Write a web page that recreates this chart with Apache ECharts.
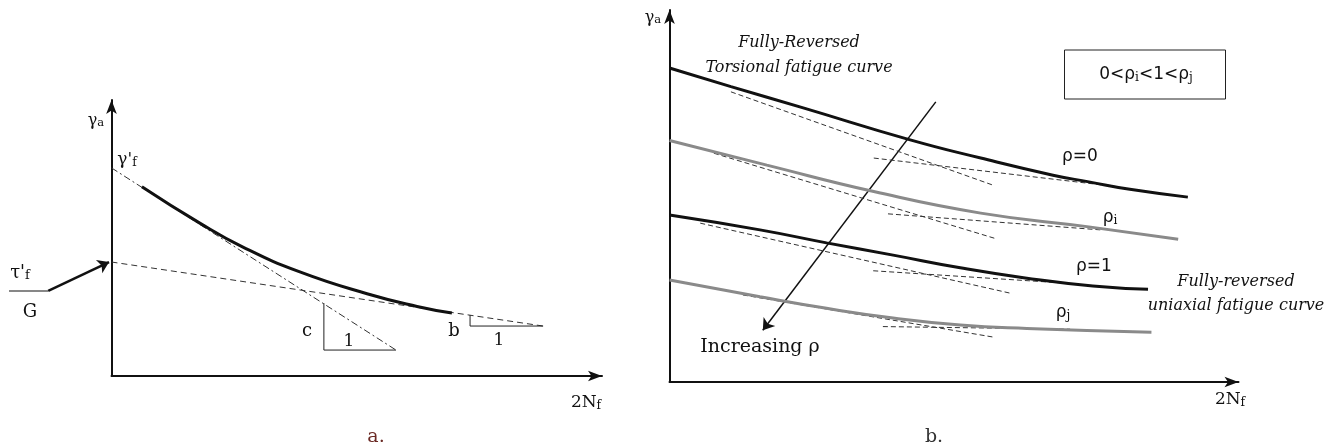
<!DOCTYPE html>
<html>
<head>
<meta charset="utf-8">
<script src="https://cdn.jsdelivr.net/npm/echarts@6/dist/echarts.min.js"></script>
<style>
  html, body { margin: 0; padding: 0; background: #fff; }
  #main { width: 1337px; height: 447px; }
</style>
</head>
<body>
<div id="main"></div>
<script>
// panel a: shear strain-life curve and its two asymptotes (axis units 0..10)
const curveA = [[0.62, 6.86], [1.80, 5.54], [2.68, 4.67], [3.84, 3.77], [5.21, 2.98], [6.23, 2.52], [6.94, 2.28]]
const steepA = [[0, 7.54], [5.80, 0.94]]
const shallowA = [[0, 4.13], [8.80, 1.81]]
const triC = [[4.33, 2.64], [4.33, 0.94], [5.80, 0.94]]
const triB = [[7.31, 2.21], [7.31, 1.81], [8.80, 1.81]]
const tauArrow = [[-1.29, 3.08], [-0.05, 4.13]]

// panel b: curves for several strain ratios rho
const rho0 = [[0, 8.44], [1.08, 7.94], [2.35, 7.37], [4.23, 6.51], [5.47, 6.02], [6.74, 5.56], [7.37, 5.38], [8.09, 5.18], [9.11, 4.97]]
const rhoI = [[0, 6.49], [1.71, 5.83], [3.59, 5.12], [5.47, 4.54], [7.37, 4.17], [8.94, 3.84]]
const rho1 = [[0, 4.49], [1.59, 4.09], [2.76, 3.74], [3.93, 3.41], [5.11, 3.07], [6.28, 2.79], [7.44, 2.58], [8.41, 2.49]]
const rhoJ = [[0, 2.74], [1.59, 2.29], [2.76, 1.98], [3.93, 1.72], [5.11, 1.53], [6.28, 1.44], [8.47, 1.34]]
const tangentsB = [
  [[1.08, 7.80], [5.67, 5.30]], [[3.59, 6.02], [7.87, 5.25]],
  [[0.78, 6.15], [5.72, 3.86]], [[3.84, 4.52], [7.57, 4.09]],
  [[0.54, 4.27], [6.01, 2.38]], [[3.58, 2.99], [7.04, 2.65]],
  [[1.29, 2.34], [5.72, 1.20]], [[3.75, 1.49], [7.04, 1.42]]
]
const rhoArrow = [[4.68, 7.53], [1.64, 1.39]]

const serif = 'DejaVu Serif'
const ink = '#111'

function axis(idx) {
  return {
    gridIndex: idx, type: 'value', min: 0, max: 10,
    axisLine: { show: true, symbol: ['none', 'arrow'], symbolSize: [8, 14], lineStyle: { color: ink, width: 2 } },
    axisTick: { show: false }, axisLabel: { show: false }, splitLine: { show: false }
  }
}

function curve(data, idx, color, width, smooth) {
  return {
    type: 'line', xAxisIndex: idx, yAxisIndex: idx, data: data,
    showSymbol: false, smooth: smooth, silent: true, animation: false,
    lineStyle: { color: color, width: width }
  }
}

function dashed(data, idx, type) {
  return {
    type: 'line', xAxisIndex: idx, yAxisIndex: idx, data: data,
    showSymbol: false, silent: true, animation: false,
    lineStyle: { color: '#333', width: 1, type: type || [5, 4] }
  }
}

function arrow(data, idx, width) {
  return {
    type: 'lines', coordinateSystem: 'cartesian2d', xAxisIndex: idx, yAxisIndex: idx,
    clip: false, silent: true, animation: false,
    symbol: ['none', 'arrow'], symbolSize: 11,
    lineStyle: { color: ink, width: width, opacity: 1 },
    data: [{ coords: data }]
  }
}

function txt(x, y, text, size, extra) {
  return Object.assign({
    type: 'text', x: x, y: y,
    style: Object.assign({
      text: text, fill: ink, font: size + 'px "' + serif + '"',
      align: 'center', verticalAlign: 'middle',
      rich: {
        s: { fontSize: size * 0.72, fontFamily: serif, verticalAlign: 'bottom', padding: [size * 0.3, 0, 0, 0] }
      }
    }, extra || {})
  })
}

const series = [
  dashed(steepA, 0, [7, 3, 2, 3]),
  dashed(shallowA, 0, [6, 4]),
  curve(curveA, 0, ink, 3, 0.5),
  curve(triC, 0, '#222', 1, false),
  curve(triB, 0, '#222', 1, false),
  arrow(tauArrow, 0, 2.5)
]
tangentsB.forEach(t => series.push(dashed(t, 1, [5, 3])))
series.push(curve(rho0, 1, ink, 3, 0.5))
series.push(curve(rhoI, 1, '#8a8a8a', 3, 0.5))
series.push(curve(rho1, 1, ink, 3, 0.5))
series.push(curve(rhoJ, 1, '#8a8a8a', 3, 0.5))
series.push(arrow(rhoArrow, 1, 1.5))

const italic = 'italic 16px "' + serif + '"'
const sans = '17px "DejaVu Sans"'

const chart = echarts.init(document.getElementById('main'))
chart.setOption({
  backgroundColor: '#fff',
  animation: false,
  grid: [
    { left: 111.5, top: 100, width: 490.5, height: 276 },
    { left: 669.5, top: 10, width: 569, height: 372 }
  ],
  xAxis: [axis(0), axis(1)],
  yAxis: [axis(0), axis(1)],
  series: series,
  graphic: [
    // panel a texts
    txt(96, 121, 'γ{s|a}', 16),
    txt(127, 160, "γ'{s|f}", 17),
    txt(20, 273, "τ'{s|f}", 18),
    { type: 'line', shape: { x1: 9, y1: 291, x2: 48, y2: 291 }, style: { stroke: ink, lineWidth: 1.2 } },
    txt(30, 312, 'G', 18),
    txt(307, 331, 'c', 18),
    txt(349, 342, '1', 17),
    txt(454, 331, 'b', 18),
    txt(499, 341, '1', 17),
    txt(586, 403, '2N{s|f}', 17),
    txt(376, 437, 'a.', 19, { fill: '#6b2a25' }),
    // panel b texts
    txt(653, 18, 'γ{s|a}', 16),
    txt(799, 43, 'Fully-Reversed', 16, { font: italic }),
    txt(799, 68, 'Torsional fatigue curve', 16, { font: italic }),
    { type: 'rect', shape: { x: 1064.5, y: 50, width: 161, height: 49 }, style: { fill: 'none', stroke: '#222', lineWidth: 1 } },
    txt(1146, 75, '0<ρ{s|i}<1<ρ{s|j}', 17, { font: sans }),
    txt(1080, 157, 'ρ=0', 17, { font: sans }),
    txt(1110, 218, 'ρ{s|i}', 17, { font: sans }),
    txt(1094, 267, 'ρ=1', 17, { font: sans }),
    txt(1063, 313, 'ρ{s|j}', 17, { font: sans }),
    txt(1236, 282, 'Fully-reversed', 16, { font: italic }),
    txt(1236, 306, 'uniaxial fatigue curve', 16, { font: italic }),
    txt(760, 347, 'Increasing ρ', 19),
    txt(1230, 400, '2N{s|f}', 17),
    txt(934, 437, 'b.', 19, { fill: '#333' })
  ]
})
</script>
</body>
</html>
